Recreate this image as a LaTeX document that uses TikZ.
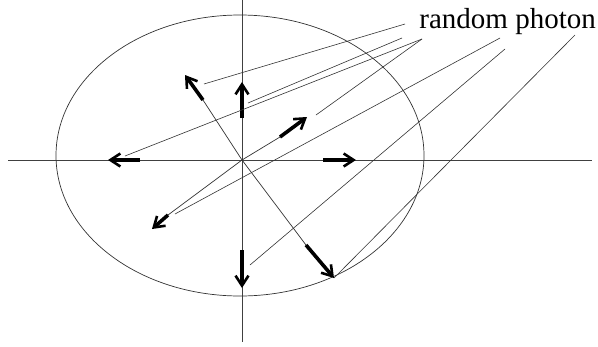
\documentclass[tikz,border=0pt]{standalone}
\usepackage{fontspec}
\setmainfont{Liberation Serif}
\usetikzlibrary{arrows.meta}
\begin{document}
\begin{tikzpicture}[x=1pt,y=-1pt,
  axis/.style={line width=0.8pt,black!75},
  ray/.style={line width=0.7pt,black!80},
  lead/.style={line width=0.6pt,black!80},
  photon/.style={line width=3.6pt,-{Straight Barb[length=10pt,width=13pt,line width=2.6pt]}}]
\useasboundingbox (0,0) rectangle (598,346);
% centre and axes
\coordinate (O) at (242,160);
\coordinate (xl) at (8,160);
\coordinate (xr) at (592,160);
\coordinate (yt) at (242,0);
\coordinate (yb) at (242,342);
\draw[axis] (xl) -- (xr);
\draw[axis] (yt) -- (yb);
% ellipse
\coordinate (E) at (240,155.5);
\draw[line width=0.7pt,black!80] (E) ellipse [x radius=184, y radius=140.5];
% photon arrows: tail (t) and head (h)
\coordinate (ult) at (203,100); \coordinate (ulh) at (185,75);
\coordinate (ut) at (242,118);  \coordinate (uh) at (242,82);
\coordinate (lt) at (140,160);  \coordinate (lh) at (108,160);
\coordinate (rt) at (323,160);  \coordinate (rh) at (356,160);
\coordinate (urt) at (280,137); \coordinate (urh) at (307,117);
\coordinate (dlt) at (168,215); \coordinate (dlh) at (152,229);
\coordinate (dt) at (242,250);  \coordinate (dh) at (242,288);
\coordinate (drt) at (306,245); \coordinate (drh) at (334,278);
% thin rays from the centre
\draw[ray] (O) -- (ult);
\draw[ray] (O) -- (drt);
\draw[ray] (O) -- (urt);
\draw[ray] (O) -- (dlt);
% arrows
\draw[photon] (ult) -- (ulh);
\draw[photon] (ut) -- (uh);
\draw[photon] (lt) -- (lh);
\draw[photon] (rt) -- (rh);
\draw[photon] (urt) -- (urh);
\draw[photon] (dlt) -- (dlh);
\draw[photon] (dt) -- (dh);
\draw[photon] (drt) -- (drh);
% label
\node[anchor=base east, font=\fontsize{29}{31}\selectfont, inner sep=0pt] (lbl) at (596,28) {random photon};
% leader line start points
\coordinate (s1) at (405,24);
\coordinate (s2) at (402,38);
\coordinate (s3) at (422,39);
\coordinate (s4) at (500,38);
\coordinate (s5) at (505,49);
\coordinate (s6) at (575,35);
% leader line end points
\coordinate (e1) at (204,84);
\coordinate (e2) at (248,103);
\coordinate (e3) at (125,156);
\coordinate (e4) at (316,115);
\coordinate (e5) at (175,214);
\coordinate (e6) at (250,265);
\draw[lead] (s1) -- (e1);
\draw[lead] (s2) -- (e2);
\draw[lead] (s3) -- (e3);
\draw[lead] (s3) -- (e4);
\draw[lead] (s4) -- (e5);
\draw[lead] (s5) -- (e6);
\draw[lead] (s6) -- (drh);
\end{tikzpicture}
\end{document}
